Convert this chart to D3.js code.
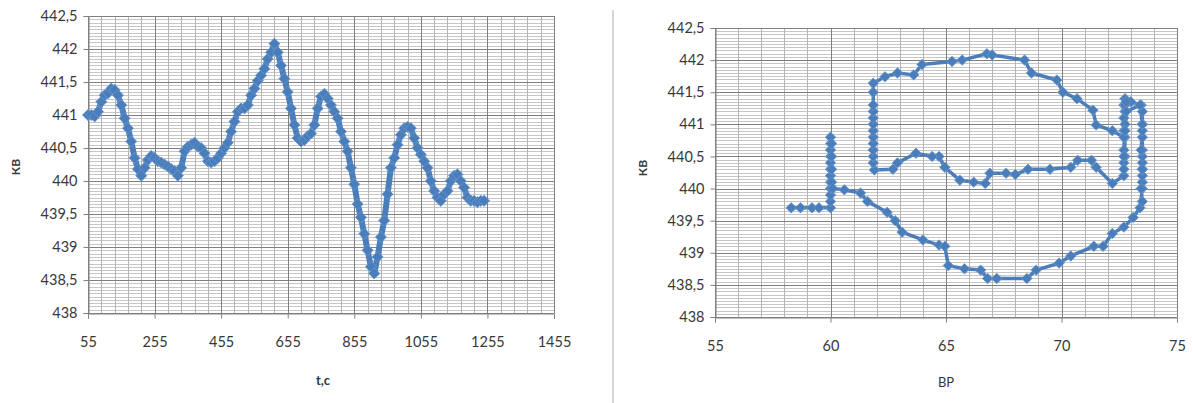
<!DOCTYPE html>
<html>
<head>
<meta charset="utf-8">
<script src="https://cdn.jsdelivr.net/npm/d3@7"></script>
<style>
  body { margin: 0; background: #fff; }
  text { font-family: Lato, 'Open Sans', sans-serif; fill: #383838; }
</style>
</head>
<body>
<div id="chart"></div>
<script>
// left panel: time series
const timeT = [55,65,75,85,95,105,115,125,135,145,155,165,175,185,195,205,215,225,235,245,
  255,265,275,285,295,305,315,325,335,345,355,365,375,385,395,405,415,425,435,445,
  455,465,475,485,495,505,515,525,535,545,555,565,575,585,595,605,615,625,635,645,
  655,665,675,685,695,705,715,725,735,745,755,765,775,785,795,805,815,825,835,845,
  855,865,875,885,895,905,915,925,935,945,955,965,975,985,995,1005,1015,1025,1035,1045,
  1055,1065,1075,1085,1095,1105,1115,1125,1135,1145,1155,1165,1175,1185,1195,1205,1215,1225,1235,1245];
const timeKB = [441.00,441.00,440.98,441.05,441.20,441.30,441.33,441.40,441.38,441.30,441.15,440.95,440.80,440.60,440.35,440.18,440.08,440.20,440.32,440.38,
  440.35,440.30,440.28,440.25,440.22,440.18,440.15,440.08,440.20,440.45,440.52,440.55,440.58,440.52,440.50,440.42,440.30,440.28,440.30,440.35,
  440.42,440.50,440.58,440.75,440.90,441.05,441.10,441.10,441.15,441.30,441.40,441.52,441.60,441.70,441.85,441.95,442.08,441.95,441.75,441.55,
  441.35,441.10,440.85,440.65,440.60,440.62,440.68,440.72,440.85,441.10,441.28,441.32,441.25,441.15,441.05,440.95,440.75,440.60,440.45,440.20,
  439.95,439.65,439.45,439.20,438.95,438.70,438.60,438.85,439.15,439.40,439.80,440.20,440.35,440.55,440.70,440.80,440.82,440.80,440.65,440.50,
  440.40,440.30,440.20,440.00,439.85,439.75,439.70,439.80,439.85,440.00,440.08,440.10,440.00,439.90,439.75,439.70,439.70,439.68,439.70,439.70];

// right panel: KB against BP
const phaseBP = [58.3,58.7,59.2,59.5,60.0,
  60.0,60.0,60.0,60.0,60.0,60.0,60.0,60.0,60.0,60.0,60.0,60.05,60.05,60.05,60.05,60.1,
  60.6,61.3,61.6,62.45,62.8,63.1,64.0,64.7,64.95,65.1,65.8,66.5,66.8,67.2,68.5,68.9,69.9,70.4,71.4,71.8,72.2,72.7,73.1,73.4,73.5,
  73.5,73.5,73.5,73.5,73.5,73.5,73.5,73.5,73.5,73.5,73.45,
  73.0,72.75,72.7,72.75,72.7,72.75,72.7,72.75,72.7,72.75,72.7,72.7,72.2,
  71.5,71.3,70.7,70.4,69.5,68.55,68.0,67.6,66.9,66.7,66.2,65.6,64.95,64.7,64.4,63.7,62.9,62.7,61.9,
  61.85,61.85,61.85,61.85,61.85,61.85,61.85,61.85,61.85,61.85,61.85,61.85,
  62.36,62.9,63.6,63.96,65.26,65.7,66.77,67.0,68.4,68.7,69.8,70.06,70.67,71.36,71.5,72.2,72.7,
  72.75,72.7,72.8,72.75,72.7,72.8,73.4,73.5,73.45,73.5,73.45,73.5];
const phaseKB = [439.7,439.7,439.7,439.7,439.7,
  439.8,439.9,440.0,440.1,440.2,440.3,440.4,440.5,440.6,440.7,440.8,440.7,440.5,440.3,440.1,440.0,
  439.98,439.93,439.8,439.63,439.5,439.32,439.2,439.12,439.1,438.8,438.75,438.73,438.6,438.6,438.6,438.73,438.84,438.95,439.1,439.1,439.3,439.4,439.55,439.7,440.0,
  440.1,440.2,440.3,440.4,440.5,440.6,440.8,440.9,441.0,441.2,441.3,
  441.35,441.4,441.3,441.2,441.1,441.0,440.9,440.8,440.6,440.5,440.4,440.2,440.08,
  440.33,440.44,440.44,440.33,440.3,440.3,440.22,440.24,440.24,440.08,440.1,440.13,440.33,440.5,440.5,440.55,440.4,440.3,440.29,
  440.4,440.5,440.6,440.7,440.8,440.9,441.0,441.1,441.2,441.3,441.5,441.64,
  441.74,441.8,441.77,441.93,441.98,442.0,442.1,442.08,442.0,441.8,441.69,441.5,441.4,441.22,440.99,440.9,440.8,
  441.3,440.5,441.35,440.9,440.3,441.2,441.3,441.0,440.6,440.3,440.0,439.8];

const kbTicks = [438,438.5,439,439.5,440,440.5,441,441.5,442,442.5];
const kbTickLabels = ['438','438,5','439','439,5','440','440,5','441','441,5','442','442,5'];
const timeTicks = [55,255,455,655,855,1055,1255,1455];
const bpTicks = [55,60,65,70,75];

const width = 1193;
const height = 403;
const blue = '#4a7ebb';

const svg = d3.select('#chart')
  .append('svg')
  .attr('width', width)
  .attr('height', height);

// thin separator between the two pictures
svg.append('line')
  .attr('x1', 613).attr('x2', 613)
  .attr('y1', 10).attr('y2', height)
  .attr('stroke', '#c8c8c8')
  .attr('stroke-width', 1.5);

const panel = (o) => {
  const x = d3.scaleLinear().domain(o.xDomain).range([o.left, o.right]);
  const y = d3.scaleLinear().domain([438, 442.5]).range([o.bottom, o.top]);
  const g = svg.append('g');

  // minor grid
  const yMinor = d3.range(0, 91).map(i => 438 + i * 0.05);
  g.append('g').selectAll('line')
    .data(yMinor)
    .join('line')
    .attr('x1', o.left).attr('x2', o.right)
    .attr('y1', d => Math.round(y(d)) + 0.5).attr('y2', d => Math.round(y(d)) + 0.5)
    .attr('stroke', '#c6c6c6');
  g.append('g').selectAll('line')
    .data(o.xMinor)
    .join('line')
    .attr('x1', d => Math.round(x(d)) + 0.5).attr('x2', d => Math.round(x(d)) + 0.5)
    .attr('y1', o.top).attr('y2', o.bottom)
    .attr('stroke', '#b4b4b4');

  // major grid
  g.append('g').selectAll('line')
    .data(kbTicks)
    .join('line')
    .attr('x1', o.left).attr('x2', o.right)
    .attr('y1', d => Math.round(y(d)) + 0.5).attr('y2', d => Math.round(y(d)) + 0.5)
    .attr('stroke', '#808080');
  g.append('g').selectAll('line')
    .data(o.xTicks)
    .join('line')
    .attr('x1', d => Math.round(x(d)) + 0.5).attr('x2', d => Math.round(x(d)) + 0.5)
    .attr('y1', o.top).attr('y2', o.bottom)
    .attr('stroke', '#808080');

  // axes
  const yAxis = d3.axisLeft(y)
    .tickValues(kbTicks)
    .tickFormat((d, i) => kbTickLabels[i])
    .tickSize(5)
    .tickPadding(6);
  const ay = g.append('g')
    .attr('transform', `translate(${o.left + 0.5},0)`)
    .call(yAxis);
  const xAxis = d3.axisBottom(x)
    .tickValues(o.xTicks)
    .tickFormat(d => String(d))
    .tickSize(5)
    .tickPadding(18);
  const ax = g.append('g')
    .attr('transform', `translate(0,${Math.round(o.bottom) + 0.5})`)
    .call(xAxis);
  [ay, ax].forEach(a => {
    a.select('.domain').attr('stroke', '#808080');
    a.selectAll('.tick line').attr('stroke', '#808080');
    a.selectAll('text')
      .style('font-family', "Lato, 'Open Sans', sans-serif")
      .style('font-size', '14.5px')
      .attr('fill', '#383838');
  });

  // series
  const pts = o.xs.map((v, i) => [v, o.ys[i]]);
  g.append('path')
    .datum(pts)
    .attr('fill', 'none')
    .attr('stroke', blue)
    .attr('stroke-width', o.lineW)
    .attr('stroke-linejoin', 'round')
    .attr('d', d3.line().x(d => x(d[0])).y(d => y(d[1])));
  g.append('g').selectAll('path')
    .data(pts)
    .join('path')
    .attr('transform', d => `translate(${x(d[0])},${y(d[1])})`)
    .attr('d', d3.symbol(d3.symbolDiamond2, o.markSize))
    .attr('fill', blue)
    .attr('stroke', '#6b97cf')
    .attr('stroke-width', 0.8);

  // titles
  g.append('text')
    .attr('transform', `translate(${o.yTitleX},${o.yTitleY}) rotate(-90)`)
    .attr('text-anchor', 'middle')
    .style('font-size', '12px')
    .style('font-weight', 'bold')
    .text('КВ');
  g.append('text')
    .attr('x', o.xTitleX)
    .attr('y', o.xTitleY)
    .attr('text-anchor', 'middle')
    .style('font-size', '13px')
    .style('font-weight', o.xTitleBold ? 'bold' : 'normal')
    .text(o.xTitle);
};

panel({
  xDomain: [55, 1455], left: 88, right: 554, top: 16, bottom: 313,
  xTicks: timeTicks, xMinor: d3.range(0, 36).map(i => 55 + i * 40),
  xs: timeT, ys: timeKB, lineW: 6, markSize: 80,
  yTitleX: 20, yTitleY: 167, xTitleX: 323, xTitleY: 385, xTitle: 't,c', xTitleBold: true
});

panel({
  xDomain: [55, 75], left: 715, right: 1177, top: 28, bottom: 317,
  xTicks: bpTicks, xMinor: d3.range(0, 21).map(i => 55 + i),
  xs: phaseBP, ys: phaseKB, lineW: 3.5, markSize: 70,
  yTitleX: 647, yTitleY: 168, xTitleX: 946, xTitleY: 387, xTitle: 'ВР', xTitleBold: false
});
</script>
</body>
</html>
